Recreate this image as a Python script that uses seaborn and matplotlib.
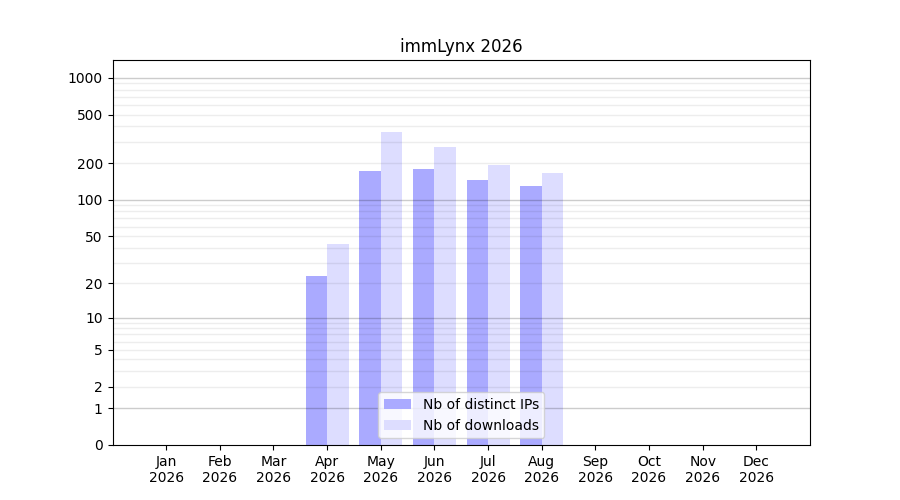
import numpy as np
import pandas as pd
import matplotlib
matplotlib.use("Agg")
import matplotlib.pyplot as plt
import seaborn as sns

# Monthly stats
months = ["Jan", "Feb", "Mar", "Apr", "May", "Jun",
          "Jul", "Aug", "Sep", "Oct", "Nov", "Dec"]
year = "2026"
distinct_ips = [0, 0, 0, 23, 173, 180, 146, 130, 0, 0, 0, 0]
downloads = [0, 0, 0, 43, 361, 272, 195, 167, 0, 0, 0, 0]

labeled_ticks = [0, 1, 2, 5, 10, 20, 50, 100, 200, 500, 1000]
decade_ticks = [1, 10, 100, 1000]
minor_ticks = [3, 4, 6, 7, 8, 9, 30, 40, 60, 70, 80, 90,
               300, 400, 600, 700, 800, 900]

df = pd.DataFrame({
    "month": months * 2,
    "count": distinct_ips + downloads,
    "series": ["Nb of distinct IPs"] * 12 + ["Nb of downloads"] * 12,
})

fig, ax = plt.subplots(figsize=(9, 5), dpi=100)

sns.barplot(data=df, x="month", y="count", hue="series", order=months,
            palette=["#aaaaff", "#ddddff"], saturation=1, width=0.8,
            ax=ax, zorder=1)

# log(1+x) scale so that 0 can be shown
ax.set_yscale("function", functions=(lambda v: np.log10(1 + np.clip(v, 0, None)),
                                     lambda v: 10 ** v - 1))
ax.set_ylim(0, 1400)
ax.set_xlim(-1, 12)

ax.set_yticks(labeled_ticks)
ax.set_yticklabels([str(t) for t in labeled_ticks])
ax.set_yticks(minor_ticks, minor=True)
ax.tick_params(axis="y", which="minor", length=0)

# grid lines: light everywhere, darker on decades
for t in labeled_ticks[1:] + minor_ticks:
    if t not in decade_ticks:
        ax.axhline(t, color="black", alpha=0.07, linewidth=1, zorder=2)
for t in decade_ticks:
    ax.axhline(t, color="black", alpha=0.2, linewidth=1, zorder=2)

ax.set_xticks(range(12))
ax.set_xticklabels([m + "\n" + year for m in months])
ax.set_xlabel("")
ax.set_ylabel("")
ax.set_title("immLynx " + year)

handles, labels = ax.get_legend_handles_labels()
ax.legend(handles, labels, loc="lower center")

plt.savefig("out.png", dpi=100)
